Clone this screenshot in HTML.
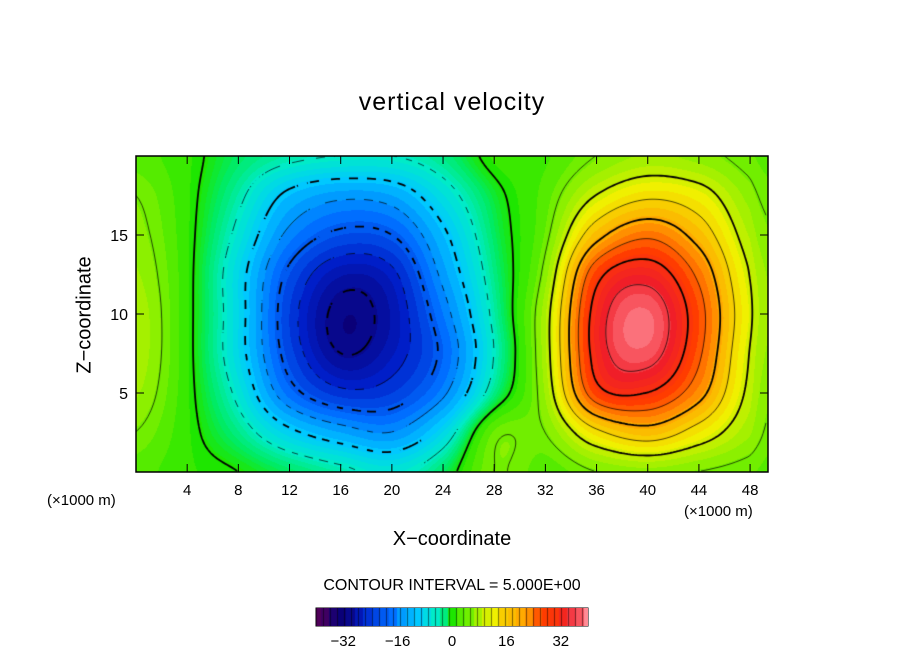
<!DOCTYPE html>
<html><head><meta charset="utf-8"><style>
body{margin:0;background:#fff;}
#wrap{position:relative;width:904px;height:654px;font-family:"Liberation Sans",sans-serif;}
.t{position:absolute;white-space:nowrap;color:#000;}
canvas{position:absolute;}
</style></head><body>
<div id="wrap">
<div class="t" style="left:0;width:904px;text-align:center;top:88px;font-size:25px;letter-spacing:1px;">vertical velocity</div>
<canvas id="plot" width="632" height="316" style="left:136px;top:156px;"></canvas>
<svg id="ax" width="904" height="654" style="position:absolute;left:0;top:0;"></svg>
<div class="t" style="left:85px;top:315px;font-size:20px;transform:translate(-50%,-50%) rotate(-90deg);">Z−coordinate</div>
<div class="t" style="left:0;width:904px;text-align:center;top:528px;font-size:20px;">X−coordinate</div>
<div class="t" style="left:47px;top:492px;font-size:15px;">(×1000 m)</div>
<div class="t" style="left:684px;top:503px;font-size:15px;">(×1000 m)</div>
<div class="t" style="left:0;width:904px;text-align:center;top:577px;font-size:16px;">CONTOUR INTERVAL = 5.000E+00</div>
<canvas id="cbar" width="272" height="18" style="left:316px;top:608px;"></canvas>
</div>
<script>
const xs=[0,4,8,12,16,20,24,28,32,36,40,44,48,50];
const ys=[20,17.5,15,12.5,10,7.5,5,2.5,0];
const field=[
[3,1,-2,-4,-5,-5,-3,1,2,5,7,6,4,3],
[5,1,-4,-11,-14,-13,-7,-1,3,10,14,12,6,4],
[6,1,-6,-16,-21,-20,-11,-2,4,18,24,18,8,5],
[7,1,-8,-21,-28,-26,-14,-3,6,28,33,24,10,6],
[8,1,-8,-23,-31,-28,-17,-4,8,32,38,27,11,6],
[8,1,-8,-22,-30,-27,-19,-5,8,32,37,26,10,6],
[7,1,-6,-18,-24,-23,-16,-3,7,28,30,22,9,5],
[5,1,-3,-9,-13,-15,-8,4,5,14,18,13,7,4],
[3,1,0,-2,-4,-6,-2,5,3,5,6,5,4,3]];
const xTicks=[4,8,12,16,20,24,28,32,36,40,44,48];
const yTicks=[5,10,15];
const cbTicks=[-32,-16,0,16,32];

const X0=136,Y0=156,W=632,H=316,xmax=49.4,ymax=20;
const sx=v=>X0+v/xmax*W, sy=v=>Y0+H-v/ymax*H;
function cr(p0,p1,p2,p3,t){return 0.5*((2*p1)+(-p0+p2)*t+(2*p0-5*p1+4*p2-p3)*t*t+(-p0+3*p1-3*p2+p3)*t*t*t);}
function idx(arr,v){for(let i=0;i<arr.length-1;i++){const a=arr[i],b=arr[i+1];if((v-a)*(v-b)<=0)return [i,(v-a)/(b-a)];}return [arr.length-2,1];}
function g(r,c){r=Math.max(0,Math.min(ys.length-1,r));c=Math.max(0,Math.min(xs.length-1,c));return field[r][c];}
function val(x,y){const [ci,tx]=idx(xs,x),[ri,ty]=idx(ys,y);const rows=[];
for(let k=-1;k<3;k++){const r=ri+k;rows.push(cr(g(r,ci-1),g(r,ci),g(r,ci+1),g(r,ci+2),tx));}
return cr(rows[0],rows[1],rows[2],rows[3],ty);}
const stops=[[-40,[80,0,90]],[-32,[10,0,120]],[-26,[0,30,200]],[-18,[0,110,255]],[-10,[0,200,255]],[-5,[0,235,200]],[-2,[0,235,100]],[0,[30,230,0]],[6,[140,240,0]],[12,[240,240,0]],[20,[255,170,0]],[28,[255,60,0]],[34,[240,30,40]],[40,[255,140,150]]];
function col(v){v=Math.max(-40,Math.min(40,v));let i=0;while(i<stops.length-2&&v>stops[i+1][0])i++;
const a=stops[i],b=stops[i+1];let t=(v-a[0])/(b[0]-a[0]);t=Math.max(0,Math.min(1,t));t=Math.round(t*4)/4;
return a[1].map((c,k)=>Math.round(c+(b[1][k]-c)*t));}
const cv=document.getElementById('plot'),ctx=cv.getContext('2d'),img=ctx.createImageData(W,H);
const V=[];
for(let j=0;j<H;j++){V.push([]);for(let i=0;i<W;i++){const x=(i+0.5)/W*xmax,y=ymax-(j+0.5)/H*ymax;const v=val(x,y);V[j].push(v);
const c=col(v),o=(j*W+i)*4;img.data[o]=c[0];img.data[o+1]=c[1];img.data[o+2]=c[2];img.data[o+3]=255;}}
ctx.putImageData(img,0,0);
const S=3;
function contour(L,lw){ctx.beginPath();
for(let j=0;j+S<H;j+=S)for(let i=0;i+S<W;i+=S){
if(L<0&&Math.floor((i+j)/9)%2===1)continue;
const a=V[j][i]-L,b=V[j][i+S]-L,c=V[j+S][i+S]-L,d=V[j+S][i]-L;const pts=[];
if(a*b<0)pts.push([i+S*a/(a-b),j]);if(b*c<0)pts.push([i+S,j+S*b/(b-c)]);
if(c*d<0)pts.push([i+S*d/(d-c),j+S]);if(d*a<0)pts.push([i,j+S*a/(a-d)]);
if(pts.length>=2){ctx.moveTo(pts[0][0],pts[0][1]);ctx.lineTo(pts[1][0],pts[1][1]);}
if(pts.length==4){ctx.moveTo(pts[2][0],pts[2][1]);ctx.lineTo(pts[3][0],pts[3][1]);}}
ctx.lineWidth=lw;ctx.strokeStyle='#000';ctx.stroke();}
for(let L=-35;L<=35;L+=5){contour(L,L%10===0?1.8:0.7);}
const NS='http://www.w3.org/2000/svg',svg=document.getElementById('ax');
function el(t,a,txt){const e=document.createElementNS(NS,t);for(const k in a)e.setAttribute(k,a[k]);if(txt!==undefined)e.textContent=txt;svg.appendChild(e);return e;}
const fr=el('rect',{x:X0,y:Y0,width:W,height:H,fill:'none',stroke:'#000','stroke-width':1.5});

xTicks.forEach(v=>{const x=sx(v);
el('line',{x1:x,x2:x,y1:Y0+H,y2:Y0+H-8,stroke:'#000'});el('line',{x1:x,x2:x,y1:Y0,y2:Y0+8,stroke:'#000'});
const t=el('text',{x:x,y:495,'text-anchor':'middle','font-size':15,'font-family':'Liberation Sans'},v);
});
yTicks.forEach(v=>{const y=sy(v);
el('line',{x1:X0,x2:X0+8,y1:y,y2:y,stroke:'#000'});el('line',{x1:X0+W,x2:X0+W-8,y1:y,y2:y,stroke:'#000'});
const t=el('text',{x:128,y:y+6,'text-anchor':'end','font-size':16,'font-family':'Liberation Sans'},v);
});
const cb=document.getElementById('cbar').getContext('2d');
for(let i=0;i<272;i++){const v=-40+i/272*80;const c=col(Math.round(v/2.5)*2.5);cb.fillStyle='rgb('+c+')';cb.fillRect(i,0,1,18);
if(i%7===0){cb.fillStyle='rgba(0,0,0,0.5)';cb.fillRect(i,0,1,18);}}
el('rect',{x:316,y:608,width:272,height:18,fill:'none',stroke:'#000'});
cbTicks.forEach(v=>{const x=316+(v+40)/80*272;
const t=el('text',{x:x,y:646,'text-anchor':'middle','font-size':15,'font-family':'Liberation Sans'},v<0?'−'+(-v):v);
});
</script>
</body></html>
